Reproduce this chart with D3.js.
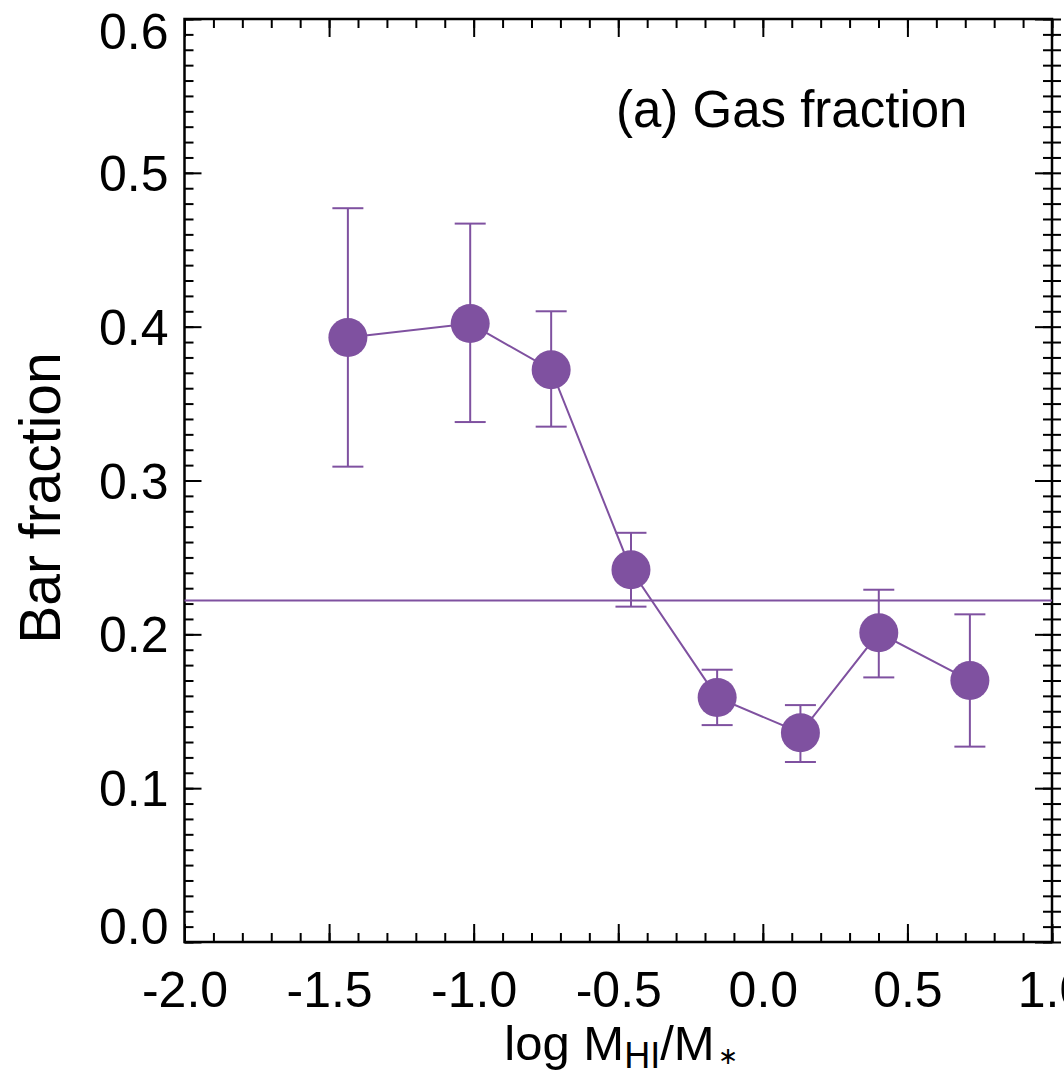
<!DOCTYPE html>
<html>
<head>
<meta charset="utf-8">
<script src="https://cdn.jsdelivr.net/npm/d3@7"></script>
<style>
  html, body { margin: 0; padding: 0; background: #fff; }
  svg { display: block; }
  text { font-family: "Liberation Sans", Arial, Helvetica, sans-serif; fill: #000; }
</style>
</head>
<body>
<svg id="chart" width="1064" height="1078"></svg>
<script>
// ---- data ----
const logGas   = [-1.435, -1.012, -0.732, -0.456, -0.158, 0.130, 0.401, 0.716];
const barFrac  = [0.393, 0.402, 0.372, 0.242, 0.159, 0.136, 0.201, 0.170];
const errHigh  = [0.477, 0.467, 0.410, 0.266, 0.177, 0.154, 0.229, 0.213];
const errLow   = [0.309, 0.338, 0.335, 0.218, 0.141, 0.117, 0.172, 0.127];
const meanFrac = 0.222;
const xTicks   = [-2.0, -1.5, -1.0, -0.5, 0.0, 0.5, 1.0];
const xTickLabels = ["-2.0", "-1.5", "-1.0", "-0.5", "0.0", "0.5", "1.0"];
const yTicks   = [0.0, 0.1, 0.2, 0.3, 0.4, 0.5, 0.6];
const yTickLabels = ["0.0", "0.1", "0.2", "0.3", "0.4", "0.5", "0.6"];
const panelLabel = "(a) Gas fraction";
const yTitle = "Bar fraction";

// ---- layout ----
const color = "#7f51a0";
const L = 184.5, R = 1052, T = 19, B = 942;
const svg = d3.select("#chart");

const x = d3.scaleLinear().domain([-2.0, 1.0]).range([L, R]);
const y = d3.scaleLinear().domain([0.0, 0.6]).range([B, T]);

const xMinor = d3.range(-2.0, 1.0001, 0.1).map(v => +v.toFixed(2));
const yMinor = d3.range(0.0, 0.6001, 0.01).map(v => +v.toFixed(3));

function styleAxis(g) {
  g.select(".domain").remove();
  g.selectAll("line").attr("stroke", "#000").attr("stroke-width", 2);
}

// minor ticks (inward)
svg.append("g").attr("transform", `translate(0,${B})`)
  .call(d3.axisBottom(x).tickValues(xMinor).tickSize(-9).tickFormat(""))
  .call(styleAxis);
svg.append("g").attr("transform", `translate(0,${T})`)
  .call(d3.axisTop(x).tickValues(xMinor).tickSize(-9).tickFormat(""))
  .call(styleAxis);
svg.append("g").attr("transform", `translate(${L},0)`)
  .call(d3.axisLeft(y).tickValues(yMinor).tickSize(-9).tickFormat(""))
  .call(styleAxis);
svg.append("g").attr("transform", `translate(${R},0)`)
  .call(d3.axisRight(y).tickValues(yMinor).tickSize(-9).tickFormat(""))
  .call(styleAxis);
// adjacent panel's ticks (pointing right, beyond the right axis)
svg.append("g").attr("transform", `translate(${R},0)`)
  .call(d3.axisRight(y).tickValues(yMinor).tickSize(9).tickFormat(""))
  .call(styleAxis);

// major ticks (inward)
svg.append("g").attr("transform", `translate(0,${T})`)
  .call(d3.axisTop(x).tickValues(xTicks).tickSize(-18).tickFormat(""))
  .call(styleAxis);
svg.append("g").attr("transform", `translate(${R},0)`)
  .call(d3.axisRight(y).tickValues(yTicks).tickSize(-17).tickFormat(""))
  .call(styleAxis);

// bottom axis with labels
const gx = svg.append("g").attr("transform", `translate(0,${B})`)
  .call(d3.axisBottom(x).tickValues(xTicks).tickSize(-18)
        .tickFormat((d, i) => xTickLabels[i]))
  .call(styleAxis);
gx.selectAll("text").attr("y", 65).attr("dy", 0)
  .style("font-size", "50px").style("font-family", "'Liberation Sans', Arial, sans-serif")
  .attr("fill", "#000");

// left axis with labels
const gy = svg.append("g").attr("transform", `translate(${L},0)`)
  .call(d3.axisLeft(y).tickValues(yTicks).tickSize(-17).tickPadding(16)
        .tickFormat((d, i) => yTickLabels[i]))
  .call(styleAxis);
gy.selectAll("text").attr("x", -16)
  .attr("dy", d => d === 0.6 ? 29 : (d === 0.0 ? 1 : 17.5))
  .style("font-size", "50px").style("font-family", "'Liberation Sans', Arial, sans-serif")
  .attr("fill", "#000");

// frame
svg.append("rect").attr("x", L).attr("y", T).attr("width", R - L).attr("height", B - T)
  .attr("fill", "none").attr("stroke", "#000").attr("stroke-width", 2.5);

// horizontal mean line
svg.append("line")
  .attr("x1", x(-2.0)).attr("x2", x(1.0))
  .attr("y1", y(meanFrac)).attr("y2", y(meanFrac))
  .attr("stroke", color).attr("stroke-width", 2);

// connecting line
const pts = logGas.map((v, i) => [v, barFrac[i]]);
svg.append("path").datum(pts)
  .attr("d", d3.line().x(d => x(d[0])).y(d => y(d[1])))
  .attr("fill", "none").attr("stroke", color).attr("stroke-width", 2);

// error bars
const eb = svg.append("g").attr("stroke", color).attr("stroke-width", 2);
logGas.forEach((v, i) => {
  eb.append("line").attr("x1", x(v)).attr("x2", x(v))
    .attr("y1", y(errLow[i])).attr("y2", y(errHigh[i]));
  eb.append("line").attr("x1", x(v) - 15.5).attr("x2", x(v) + 15.5)
    .attr("y1", y(errLow[i])).attr("y2", y(errLow[i]));
  eb.append("line").attr("x1", x(v) - 15.5).attr("x2", x(v) + 15.5)
    .attr("y1", y(errHigh[i])).attr("y2", y(errHigh[i]));
});

// markers
svg.append("g").selectAll("circle").data(pts).join("circle")
  .attr("cx", d => x(d[0])).attr("cy", d => y(d[1])).attr("r", 19.5)
  .attr("fill", color);

// panel label
svg.append("text").attr("x", 616).attr("y", 127)
  .style("font-size", "51px").text(panelLabel);

// y title
svg.append("text").attr("transform", "translate(60,498) rotate(-90)")
  .attr("text-anchor", "middle").style("font-size", "57px").text(yTitle);

// x title: log M_HI / M_*
const xt = svg.append("text").attr("x", 621).attr("y", 1060)
  .attr("text-anchor", "middle").style("font-size", "49px");
xt.append("tspan").text("log M");
xt.append("tspan").attr("dy", 8).style("font-size", "36px").text("HI");
xt.append("tspan").attr("dy", -8).text("/M");
xt.append("tspan").attr("dx", 3).attr("dy", 4).style("font-size", "24px").text("\u2217");
</script>
</body>
</html>
